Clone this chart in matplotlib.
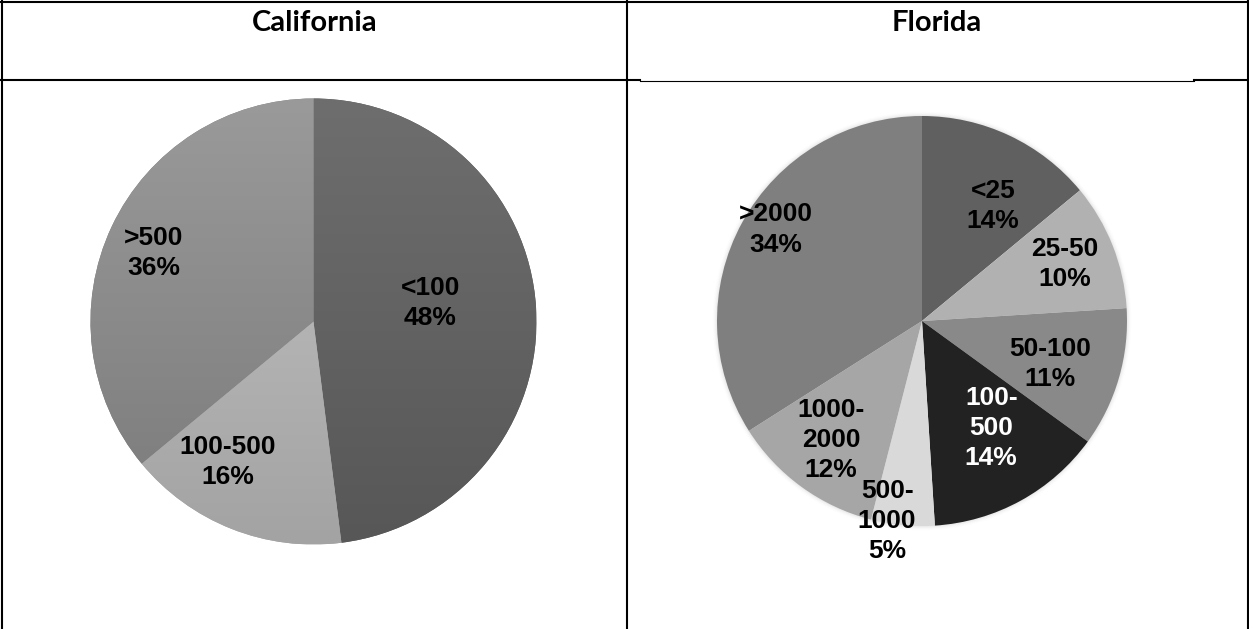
import numpy as np
import matplotlib.pyplot as plt
from matplotlib.colors import to_rgb

W, H = 1249, 629

# California: share of sites by size class
ca_labels = ['<100', '100-500', '>500']
ca_values = [48, 16, 36]
ca_top = ['#6e6e6e', '#c4c4c4', '#9a9a9a']
ca_bottom = ['#575757', '#a3a3a3', '#7a7a7a']

# Florida: share of sites by size class
fl_labels = ['<25', '25-50', '50-100', '100-500', '500-1000', '1000-2000', '>2000']
fl_values = [14, 10, 11, 14, 5, 12, 34]
fl_colors = ['#606060', '#b1b1b1', '#898989', '#222222', '#d9d9d9', '#a6a6a6', '#7f7f7f']
fl_text_colors = ['black', 'black', 'black', 'white', 'black', 'black', 'black']

# label placement: (radius fraction, angle shift from wedge middle in degrees)
ca_label_pos = [(0.53, 5.4), (0.74, -9.8), (0.78, 2.1)]
fl_label_pos = [(0.66, -6.5), (0.75, 0), (0.66, -2.4), (0.62, 4.2),
                (0.99, -4.5), (0.73, -1.5), (0.84, -3.3)]

LABEL_FONT = 'Liberation Sans'
HEAD_FONT = 'Lato'


def py(y):
    # pixel row (from top) to data y
    return H - y


def gradient_fill(ax, wedge, cx, cy, r, top, bottom):
    t = np.linspace(0, 1, 256)[:, None, None]
    img = (1 - t) * np.array(to_rgb(top)) + t * np.array(to_rgb(bottom))
    im = ax.imshow(img, extent=(cx - r, cx + r, cy - r, cy + r), origin='upper',
                   interpolation='bilinear', zorder=2)
    im.set_clip_path(wedge)


def soft_shadow(ax, cx, cy, r, width=6, strength=0.2):
    pad = width + 4
    n = int(2 * (r + pad))
    xs = np.linspace(cx - r - pad, cx + r + pad, n)
    ys = np.linspace(cy - r - pad, cy + r + pad, n)
    xx, yy = np.meshgrid(xs, ys)
    d = np.hypot(xx - cx, yy - cy)
    a = np.clip(1 - (d - r) / width, 0, 1) ** 2 * strength
    a[d < r - 3] = 0
    img = np.zeros((n, n, 4))
    img[..., :3] = 0.45
    img[..., 3] = a
    ax.imshow(img, extent=(xs[0], xs[-1], ys[0], ys[-1]), origin='lower',
              interpolation='bilinear', zorder=0.5)


def wrap(label):
    # long ranges are broken after the dash
    if len(label) > 6 and '-' in label:
        a, b = label.split('-')
        return a + '-\n' + b
    return label


fig = plt.figure(figsize=(W / 100, H / 100), dpi=100)
ax = fig.add_axes([0, 0, 1, 1])

label_kw = dict(ha='center', va='center', fontsize=19, fontweight='bold',
                family=LABEL_FONT, linespacing=1.32, zorder=5)

# ---- California pie ----
ca_cx, ca_cy, ca_r = 313.5, py(321.5), 223
wedges, _ = ax.pie(ca_values, radius=ca_r, center=(ca_cx, ca_cy), startangle=90,
                   counterclock=False, colors=ca_bottom, frame=True,
                   wedgeprops=dict(linewidth=0, zorder=1))
for w, top, bot in zip(wedges, ca_top, ca_bottom):
    gradient_fill(ax, w, ca_cx, ca_cy, ca_r, top, bot)
for w, lab, val, (rf, shift) in zip(wedges, ca_labels, ca_values, ca_label_pos):
    ang = np.deg2rad((w.theta1 + w.theta2) / 2 + shift)
    ax.text(ca_cx + rf * ca_r * np.cos(ang), ca_cy + rf * ca_r * np.sin(ang),
            f'{lab}\n{val}%', **label_kw)

# ---- Florida pie ----
fl_cx, fl_cy, fl_r = 922, py(321), 205
soft_shadow(ax, fl_cx, fl_cy, fl_r)
wedges, _ = ax.pie(fl_values, radius=fl_r, center=(fl_cx, fl_cy), startangle=90,
                   counterclock=False, colors=fl_colors, frame=True,
                   wedgeprops=dict(linewidth=0, zorder=1))
for w, lab, val, tc, (rf, shift) in zip(wedges, fl_labels, fl_values,
                                        fl_text_colors, fl_label_pos):
    ang = np.deg2rad((w.theta1 + w.theta2) / 2 + shift)
    ax.text(fl_cx + rf * fl_r * np.cos(ang), fl_cy + rf * fl_r * np.sin(ang),
            f'{wrap(lab)}\n{val}%', color=tc, **label_kw)

# ---- table grid ----
lw = 1.5
ax.plot([1.8, 1.8], [py(0), py(H)], color='black', lw=lw, zorder=6)
ax.plot([1247.8, 1247.8], [py(0), py(H)], color='black', lw=lw, zorder=6)
ax.plot([626.7, 626.7], [py(0), py(H)], color='black', lw=lw, zorder=6)
ax.plot([0, W], [py(1.8), py(1.8)], color='black', lw=lw, zorder=6)
ax.plot([0, 640], [py(80), py(80)], color='black', lw=lw, zorder=6)
ax.plot([640, 1194], [py(80.6), py(80.6)], color='black', lw=0.8, zorder=6)
ax.plot([1194, W], [py(80), py(80)], color='black', lw=lw, zorder=6)

# ---- headers ----
ax.text(314.5, py(31), 'California', ha='center', va='baseline', fontsize=21,
        fontweight='bold', family=HEAD_FONT, zorder=6)
ax.text(937, py(31), 'Florida', ha='center', va='baseline', fontsize=21,
        fontweight='bold', family=HEAD_FONT, zorder=6)

ax.set_xlim(0, W)
ax.set_ylim(0, H)
ax.set_aspect('auto')
ax.axis('off')

fig.savefig('out.png', dpi=100, facecolor='white')
